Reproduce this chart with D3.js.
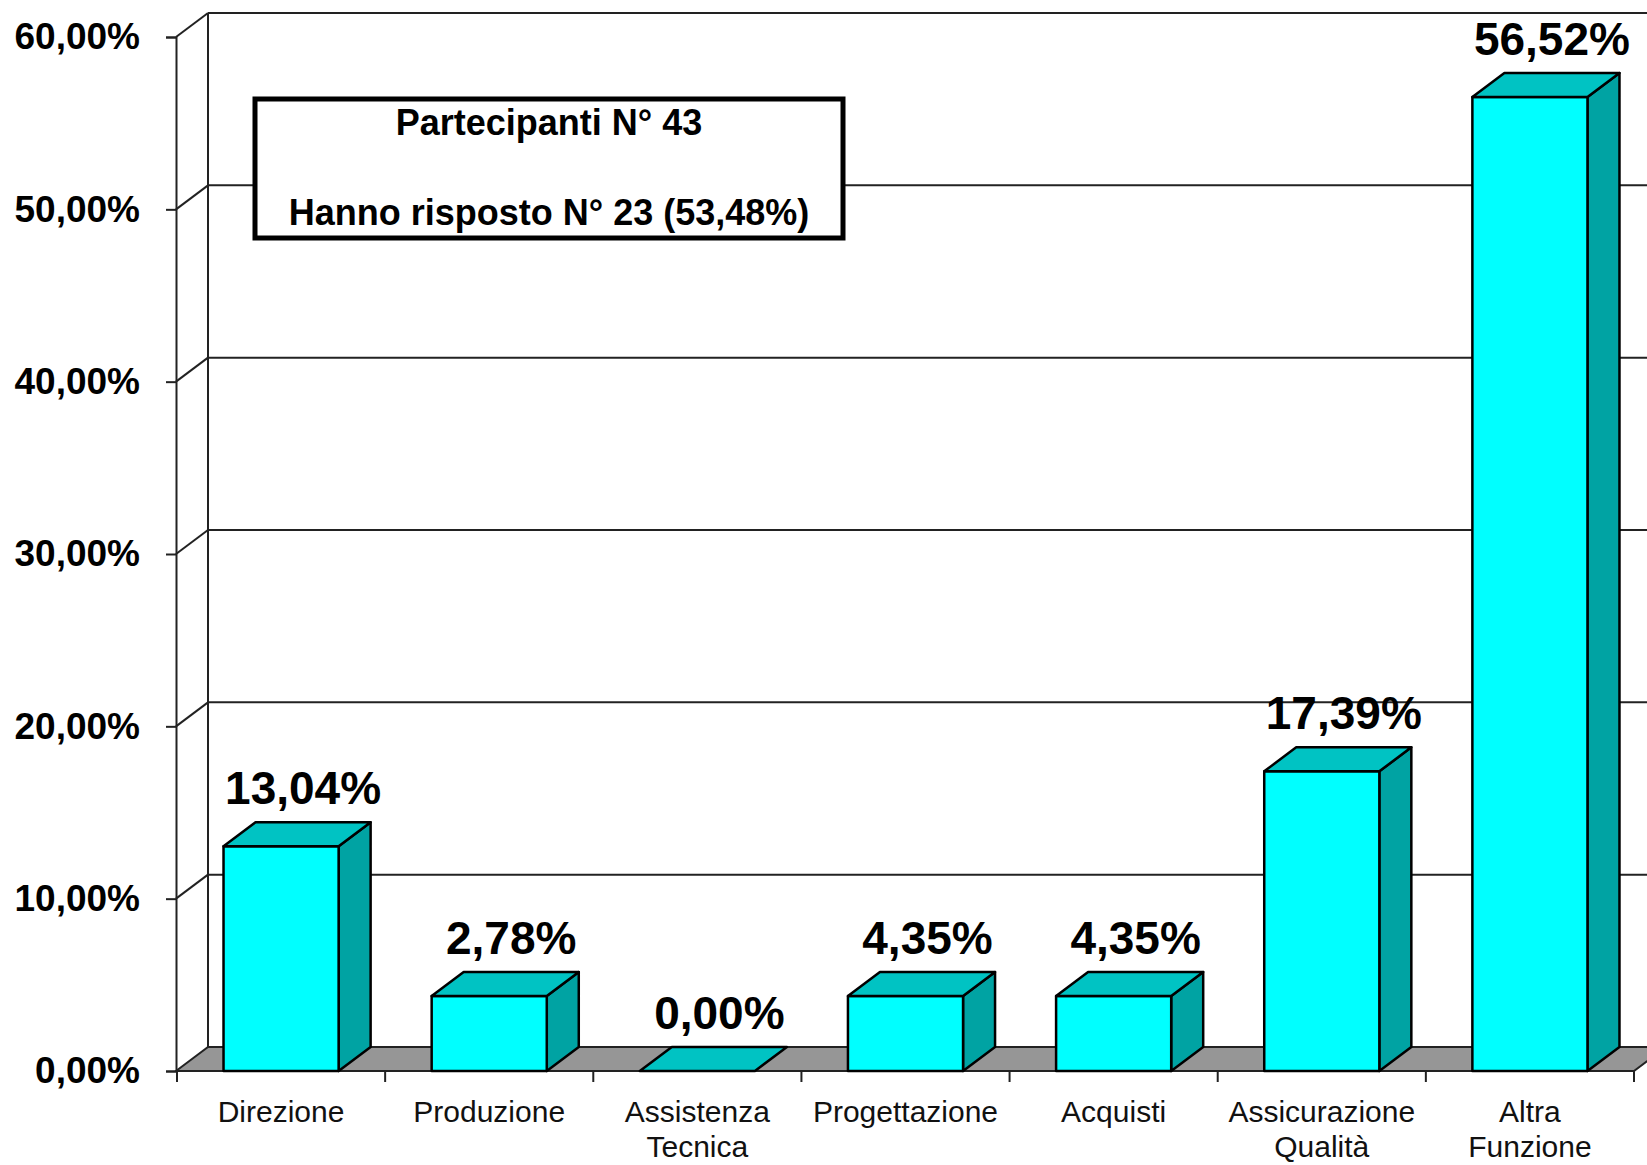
<!DOCTYPE html>
<html>
<head>
<meta charset="utf-8">
<script src="https://cdn.jsdelivr.net/npm/d3@7"></script>
<style>
  html, body { margin: 0; padding: 0; background: #fff; }
  svg { display: block; font-family: "Liberation Sans", Arial, sans-serif; }
</style>
</head>
<body>
<svg id="chart" width="1647" height="1165"></svg>
<script>
// ---- data ----
const categories = ["Direzione", "Produzione", "Assistenza\nTecnica", "Progettazione", "Acquisti", "Assicurazione\nQualità", "Altra\nFunzione"];
const values = [13.04, 4.35, 0.00, 4.35, 4.35, 17.39, 56.52];
const valueLabels = ["13,04%", "2,78%", "0,00%", "4,35%", "4,35%", "17,39%", "56,52%"];
const yTicks = [0, 10, 20, 30, 40, 50, 60];
const infoLines = ["Partecipanti N° 43", "Hanno risposto N° 23 (53,48%)"];

// ---- layout ----
const W = 1647, H = 1165;
const axisX = 176, y0 = 1071, yTop = 37;
const plotRight = 1634;
const DX = 32, DY = 24;           // 3D depth offset
const barFrac = 0.553;

const svg = d3.select("#chart");

const y = d3.scaleLinear().domain([0, 60]).range([y0, yTop]);
const x = d3.scaleBand().domain(categories).range([axisX + 1, plotRight]).padding(0);

const itLocale = d3.formatLocale({decimal: ",", thousands: ".", grouping: [3], currency: ["", "€"]});
const fmt = itLocale.format(".2f");

const gridColor = "#222";

// back wall left edge
svg.append("line").attr("x1", axisX + DX).attr("x2", axisX + DX)
  .attr("y1", y(60) - DY).attr("y2", y(0) - DY)
  .attr("stroke", gridColor).attr("stroke-width", 2);

// gridlines on back wall + side wall diagonals
const grid = svg.append("g");
yTicks.forEach(t => {
  if (t === 0) return;
  grid.append("line").attr("x1", axisX + DX).attr("x2", W + 10)
    .attr("y1", y(t) - DY).attr("y2", y(t) - DY)
    .attr("stroke", gridColor).attr("stroke-width", 2);
  grid.append("line").attr("x1", axisX).attr("x2", axisX + DX)
    .attr("y1", y(t)).attr("y2", y(t) - DY)
    .attr("stroke", gridColor).attr("stroke-width", 2);
});

// floor
svg.append("polygon")
  .attr("points", [[axisX, y(0)], [axisX + DX, y(0) - DY], [plotRight + DX, y(0) - DY], [plotRight, y(0)]].map(p => p.join(",")).join(" "))
  .attr("fill", "#969696").attr("stroke", "#222").attr("stroke-width", 2);

// y axis
const yAxis = d3.axisLeft(y).tickValues(yTicks).tickSize(10).tickPadding(26)
  .tickFormat(d => fmt(d) + "%");
const gy = svg.append("g").attr("transform", `translate(${axisX},0)`).call(yAxis);
gy.select(".domain").attr("stroke", gridColor).attr("stroke-width", 2);
gy.selectAll(".tick line").attr("stroke", gridColor).attr("stroke-width", 2);
gy.selectAll(".tick text").attr("font-size", 37).attr("font-weight", "bold")
  .attr("fill", "#000").attr("font-family", "Liberation Sans, Arial, sans-serif");

// x axis (ticks at category boundaries)
const xAxisG = svg.append("g");
xAxisG.append("line").attr("x1", axisX).attr("x2", plotRight).attr("y1", y0).attr("y2", y0)
  .attr("stroke", gridColor).attr("stroke-width", 2);
const bounds = categories.map(c => x(c)).concat([x(categories[categories.length - 1]) + x.bandwidth()]);
bounds.forEach(b => {
  xAxisG.append("line").attr("x1", b).attr("x2", b).attr("y1", y0).attr("y2", y0 + 11)
    .attr("stroke", gridColor).attr("stroke-width", 2);
});
categories.forEach(c => {
  const t = xAxisG.append("text").attr("text-anchor", "middle").attr("font-size", 30)
    .attr("fill", "#111");
  c.split("\n").forEach((line, i) => {
    t.append("tspan").attr("x", x(c) + x.bandwidth() / 2).attr("y", 1122 + i * 35).text(line);
  });
});

// bars
const bw = x.bandwidth() * barFrac;
const bars = svg.append("g");
categories.forEach((c, i) => {
  const v = values[i];
  const xl = x(c) + (x.bandwidth() - bw) / 2, xr = xl + bw;
  const yt = y(v), yb = y(0);
  const g = bars.append("g").attr("stroke", "#000").attr("stroke-width", 2.5).attr("stroke-linejoin", "round");
  if (v > 0) {
    // side
    g.append("polygon").attr("points", [[xr, yt], [xr + DX, yt - DY], [xr + DX, yb - DY], [xr, yb]].map(p => p.join(",")).join(" "))
      .attr("fill", "#00A3A3");
    // front
    g.append("rect").attr("x", xl).attr("y", yt).attr("width", bw).attr("height", yb - yt).attr("fill", "#00FFFF");
  }
  // top
  g.append("polygon").attr("points", [[xl, yt], [xl + DX, yt - DY], [xr + DX, yt - DY], [xr, yt]].map(p => p.join(",")).join(" "))
    .attr("fill", "#00C3C3");
  // value label
  svg.append("text").attr("x", x(c) + x.bandwidth() / 2 + 22).attr("y", yt - DY - 18)
    .attr("text-anchor", "middle").attr("font-size", 46).attr("font-weight", "bold").attr("fill", "#000")
    .text(valueLabels[i]);
});

// info box
svg.append("rect").attr("x", 255).attr("y", 99).attr("width", 588).attr("height", 139)
  .attr("fill", "#fff").attr("stroke", "#000").attr("stroke-width", 5);
infoLines.forEach((t, i) => {
  svg.append("text").attr("x", 549).attr("y", 135 + i * 90).attr("text-anchor", "middle")
    .attr("font-size", 36).attr("font-weight", "bold").attr("fill", "#000").text(t);
});
</script>
</body>
</html>
